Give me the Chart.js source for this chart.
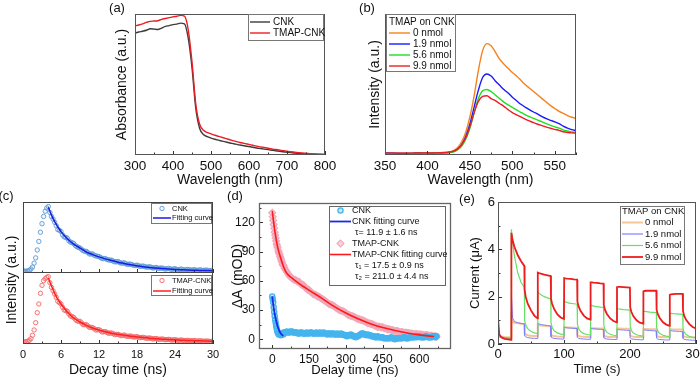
<!DOCTYPE html>
<html><head><meta charset="utf-8">
<script src="https://cdn.jsdelivr.net/npm/chart.js@4.4.1/dist/chart.umd.min.js"></script>
<style>
html,body{margin:0;padding:0;background:#fff;width:700px;height:379px;overflow:hidden}
canvas{position:absolute;left:0;top:0}
</style></head><body>
<canvas id="ca" width="700" height="379"></canvas>
<canvas id="cb" width="700" height="379"></canvas>
<canvas id="cc1" width="700" height="379"></canvas>
<canvas id="cc2" width="700" height="379"></canvas>
<canvas id="cd" width="700" height="379"></canvas>
<canvas id="ce" width="700" height="379"></canvas>
<script>
// ---------------- DATA ----------------
// (a) absorbance
const absWl = [300,310,320,330,340,350,360,370,380,390,400,410,420,430,440,450,460,470,480,490,500,510,520,530,540,550,560,570,580,590,600,610,620,630,640,650,660,670,680,690,700,710,720,730,740,750,760,770,780,790,800];
const absCNK = [.865,.872,.878,.885,.895,.893,.89,.9,.912,.918,.925,.928,.935,.93,.83,.62,.33,.19,.145,.13,.12,.112,.105,.098,.092,.085,.08,.074,.069,.064,.06,.055,.05,.046,.042,.038,.034,.03,.027,.023,.02,.017,.014,.012,.01,.008,.007,.006,.005,.004,.004];
const absTMAP = [.915,.922,.93,.94,.948,.95,.952,.962,.968,.974,.98,.984,.99,.985,.89,.66,.36,.22,.175,.16,.15,.14,.132,.124,.116,.108,.1,.093,.087,.081,.075,.069,.063,.058,.053,.048,.043,.039,.035,.031,.027,.023,.02,.017,.014,.012,.01,.008,.006,.005,.004];
const absTicks = [300,400,500,600,700,800];
// (b) PL spectra
const plWl = [350,355,360,365,370,375,380,385,390,395,400,405,410,415,420,425,430,435,440,445,450,455,460,465,470,475,480,485,490,495,500,505,510,515,520,525,530,535,540,545,550,555,560,565,570,575];
const pl0 = [.015,.015,.014,.014,.013,.013,.013,.014,.015,.016,.016,.015,.016,.017,.019,.022,.03,.05,.09,.16,.27,.42,.6,.74,.79,.775,.73,.68,.645,.615,.585,.56,.53,.5,.475,.45,.425,.4,.375,.35,.33,.31,.295,.28,.268,.26];
const pl19 = [.012,.012,.012,.011,.011,.011,.011,.012,.012,.013,.013,.013,.013,.014,.015,.018,.024,.04,.07,.13,.22,.34,.46,.55,.575,.56,.525,.495,.465,.44,.41,.385,.36,.34,.322,.305,.29,.272,.258,.246,.235,.222,.205,.19,.18,.173];
const pl56 = [.01,.01,.01,.01,.01,.01,.01,.011,.011,.012,.012,.012,.012,.013,.014,.016,.021,.035,.06,.11,.19,.3,.4,.455,.465,.45,.425,.4,.375,.355,.338,.32,.302,.287,.272,.26,.248,.235,.222,.21,.2,.19,.178,.17,.163,.16];
const pl99 = [.013,.013,.013,.012,.012,.012,.013,.014,.014,.015,.015,.014,.015,.016,.017,.02,.026,.04,.07,.12,.2,.3,.38,.415,.42,.4,.385,.365,.345,.322,.3,.285,.27,.255,.242,.229,.218,.208,.198,.19,.182,.175,.165,.16,.157,.155];
const plTicks = [350,400,450,500,550];
// (c) TRPL decay (two interleaved sampling sets)
const cX = [0,0.5,1,1.5,2,2.5,3,3.5,4,4.5,5,5.5,6,6.5,7,7.5,8,8.5,9,9.5,10,10.5,11,11.5,12,12.5,13,13.5,14,14.5,15,15.5,16,16.5,17,17.5,18,18.5,19,19.5,20,20.5,21,21.5,22,22.5,23,23.5,24,24.5,25,25.5,26,26.5,27,27.5,28,28.5,29,29.5,30];
const cCNK = [.01,.005,.02,.07,.21,.46,.73,.92,.99,.84,.75,.64,.61,.53,.51,.45,.43,.38,.36,.32,.31,.27,.27,.24,.23,.2,.2,.18,.175,.15,.155,.13,.135,.11,.115,.095,.1,.08,.085,.07,.075,.055,.065,.05,.055,.04,.05,.035,.045,.03,.04,.025,.035,.025,.03,.02,.03,.02,.025,.015,.02];
const cTMAP = [.01,.015,.035,.11,.3,.58,.86,.96,.99,.83,.73,.62,.58,.49,.47,.4,.38,.33,.32,.27,.27,.23,.225,.19,.195,.16,.165,.14,.145,.12,.125,.105,.115,.095,.1,.085,.09,.075,.08,.065,.07,.055,.062,.05,.055,.043,.05,.038,.044,.033,.04,.03,.035,.026,.031,.024,.028,.02,.025,.018,.022];
const cX2 = [0.25,0.75,1.25,1.75,2.25,2.75,3.25,3.75,4.25,4.75,5.25,5.75,6.25,6.75,7.25,7.75,8.25,8.75,9.25,9.75,10.25,10.75,11.25,11.75,12.25,12.75,13.25,13.75,14.25,14.75,15.25,15.75,16.25,16.75,17.25,17.75,18.25,18.75,19.25,19.75,20.25,20.75,21.25,21.75,22.25,22.75,23.25,23.75,24.25,24.75,25.25,25.75,26.25,26.75,27.25,27.75,28.25,28.75,29.25,29.75];
const cCNK2 = [.01,.012,.04,.13,.33,.6,.84,.97,.9,.8,.7,.63,.56,.52,.47,.44,.4,.37,.34,.31,.29,.27,.25,.235,.215,.2,.185,.175,.16,.15,.14,.13,.12,.115,.105,.095,.09,.085,.075,.07,.065,.06,.055,.055,.045,.045,.04,.04,.035,.035,.03,.03,.028,.025,.025,.022,.02,.022,.018,.02];
const cTMAP2 = [.012,.02,.06,.19,.45,.74,.93,.98,.9,.78,.68,.6,.53,.48,.43,.39,.35,.32,.295,.27,.25,.23,.21,.195,.18,.165,.155,.145,.135,.125,.115,.11,.1,.097,.09,.087,.08,.078,.072,.068,.064,.06,.056,.053,.05,.047,.045,.042,.04,.037,.035,.033,.031,.03,.028,.026,.025,.023,.022,.02];
const cFitX = [4,4.5,5,5.5,6,7,8,9,10,11,12,13,14,15,16,17,18,19,20,21,22,23,24,25,26,27,28,29,30];
const cCNKfit = [.98,.86,.76,.68,.61,.5,.42,.36,.3,.26,.225,.195,.17,.145,.125,.105,.09,.075,.065,.055,.047,.04,.034,.029,.025,.022,.019,.017,.015];
const cTMAPfit = [.97,.85,.74,.65,.58,.46,.37,.31,.26,.22,.19,.165,.142,.125,.11,.097,.086,.076,.067,.06,.053,.047,.042,.037,.033,.03,.027,.024,.022];
const cTicks = [0,6,12,18,24,30];
// (d) transient absorption
const dX = [0,4,8,12,16,20,25,30,35,40,45,50,60,70,80,90,100,110,120,130,140,150,160,170,180,190,200,210,220,230,240,250,260,270,280,290,300,310,320,330,340,350,360,370,380,390,400,410,420,430,440,450,460,470,480,490,500,510,520,530,540,550,560,570,580,590,600,610,620,630,640,650,660,670];
const dCNK = [44,38,28,20,14,9,6,5,4,5,5,7,8,7,8,7,7,6,7,6,7,6,7,6,7,6,6,7,6,6,5,6,5,5,6,5,4,4,5,3,2,3,5,6,5,5,4,3,2,3,2,2,1,1,1,1,0,1,1,1,2,1,2,2,2,2,3,2,2,3,2,2,3,3];
const dTMAP = [130,122,114,107,101,96,91,87,83,79,76,73,69,65,63,61,60,59,56,55,52,51,48,46,45,44,42,40.5,38.5,36.5,35.5,34.5,32.5,30.5,29.5,28.5,27,25,24,23.5,22,20.5,20,19.5,18,16.5,16,15.5,14,12.5,12.5,12.5,11,10,10,9.5,8.5,8.5,7.5,7.5,6.5,6.5,6,6,5,5.5,5,5,4,4.5,3.5,3.5,3,2.5];
const dX2 = [2,6,10,14,18,22,27,32,37,42,47,55,65,75,85,95,105,115,125,135,145,155,165,175,185,195,205,215,225,235,245,255,265,275,285,295,305,315,325,335,345,355,365,375,385,395,405,415,425,435,445,455,465,475,485,495,505,515,525,535,545,555,565,575,585,595,605,615,625,635,645,655,665];
const dCNK2 = [41,33,24,17,11,7,5,6,6,6,7,7,7,8,7,7,6,7,6,6,6,7,6,6,6,7,6,6,5,6,6,5,6,5,5,4,3,4,4,3,3,4,6,5,4,4,3,3,2,2,2,1,1,1,2,1,1,1,1,2,1,1,2,2,3,3,2,2,3,2,2,3,2];
const dTMAP2 = [126,118,110,104,98,94,89,85,81,77,75,71,67,64,62,61,59,57,56,53,51,49,47,46,44,43,41,39.5,37.5,36,35,33.5,31.5,30,29,28,26,25,24,23,21.5,20.5,19.5,18.5,17.5,16.5,15.5,14.5,13.5,13,12,11.5,11,10.5,9.5,9,8.5,8,7.5,7,7,6.5,6,5.5,5.5,5,5,4.5,4,4,3.5,3,3];
const dCfitX = [0,5,10,15,20,25,30,35,40,45];
const dCNKfit = [44,34,26,20,15,11,8,6,4.5,3.5];
const dTfitX = [0,10,20,30,40,50,60,80,100,125,150,175,200,250,300,350,400,450,500,550,600,650,660];
const dTMAPfit = [132,112,97,87,79,72,67.5,63,59,54.5,50.5,46.5,42.5,34,27,21,16,12,9,6.5,4.5,3,2.8];
const dXTicks = [0,150,300,450,600];
const dYTicks = [0,30,60,90,120];
// (e) photocurrent
const eT = [0,2,5,10,15,19.9, 20.3,22,25,30,35,39.9, 40.3,42,45,50,55,59.9, 60.3,62,65,70,75,79.9, 80.3,82,85,90,95,99.9, 100.3,102,105,110,115,119.9, 120.3,122,125,130,135,139.9, 140.3,142,145,150,155,159.9, 160.3,162,165,170,175,179.9, 180.3,182,185,190,195,199.9, 200.3,202,205,210,215,219.9, 220.3,222,225,230,235,239.9, 240.3,242,245,250,255,259.9, 260.3,262,265,270,275,279.9, 280.3,282,285,290,295,300];
const e0 = [.4,.35,.32,.3,.29,.28, 1.1,.95,.9,.88,.86,.85, .45,.4,.37,.35,.34,.33, .82,.8,.78,.77,.76,.75, .4,.36,.34,.32,.31,.31, .72,.71,.7,.7,.69,.69, .38,.34,.32,.31,.3,.3, .68,.67,.67,.66,.66,.66, .37,.33,.31,.3,.3,.3, .65,.65,.65,.64,.64,.64, .36,.33,.31,.3,.3,.3, .63,.63,.63,.62,.62,.62, .35,.32,.3,.3,.29,.29, .62,.62,.61,.61,.61,.61, .35,.32,.3,.29,.28,.28];
const e19 = [.45,.35,.3,.27,.25,.24, 2.1,1.1,.95,.9,.87,.85, .35,.3,.27,.25,.24,.23, .88,.85,.82,.8,.78,.76, .3,.26,.24,.22,.21,.21, .72,.7,.68,.67,.66,.65, .28,.24,.22,.21,.2,.2, .66,.65,.64,.63,.62,.61, .27,.23,.21,.2,.19,.19, .62,.61,.6,.59,.58,.57, .26,.22,.2,.19,.18,.18, .6,.59,.58,.57,.56,.55, .25,.21,.19,.18,.17,.17, .57,.56,.55,.54,.53,.52, .24,.2,.18,.17,.16,.15];
const e56 = [.35,.3,.27,.25,.24,.23, 4.85,4.3,3.7,3.0,2.6,2.4, 1.0,.8,.65,.53,.47,.44, 2.22,2.15,2.08,2.0,1.95,1.9, .9,.7,.56,.47,.42,.4, 1.82,1.78,1.75,1.72,1.7,1.68, .85,.66,.53,.44,.4,.38, 1.65,1.63,1.6,1.58,1.56,1.55, .8,.62,.49,.41,.37,.35, 1.5,1.49,1.47,1.45,1.44,1.43, .75,.58,.46,.39,.35,.33, 1.4,1.38,1.37,1.35,1.34,1.33, .7,.55,.44,.37,.33,.31, 1.3,1.29,1.28,1.27,1.26,1.25, .65,.5,.4,.32,.28,.25];
const e99 = [1.1,.4,.28,.22,.2,.18, 4.7,4.4,4.1,3.75,3.5,3.3, 2.3,2.0,1.7,1.42,1.2,1.08, 3.02,3.0,2.97,2.93,2.9,2.87, 1.9,1.7,1.48,1.25,1.12,1.06, 2.78,2.77,2.76,2.75,2.73,2.72, 1.8,1.6,1.4,1.2,1.08,1.03, 2.6,2.6,2.59,2.58,2.56,2.55, 1.65,1.45,1.27,1.08,.97,.92, 2.4,2.41,2.41,2.4,2.39,2.38, 1.55,1.36,1.18,1.0,.9,.86, 2.22,2.24,2.25,2.25,2.25,2.25, 1.45,1.27,1.1,.92,.82,.77, 2.08,2.1,2.11,2.12,2.12,2.12, 1.4,1.2,1.02,.84,.72,.66];
const eXTicks = [0,100,200,300];
const eYTicks = [0,2,4,6];

// ---------------- HELPERS ----------------
const FONT = "'Liberation Sans', Arial, sans-serif";
const pts = (xs, ys) => xs.map((x, i) => ({x: x, y: ys[i]}));

function drawMarker(ctx, style, x, y, r, fill, stroke, bw) {
  ctx.beginPath();
  if (style === 'rectRot') { ctx.moveTo(x, y - r); ctx.lineTo(x + r, y); ctx.lineTo(x, y + r); ctx.lineTo(x - r, y); ctx.closePath(); }
  else ctx.arc(x, y, r, 0, Math.PI * 2);
  if (fill) { ctx.fillStyle = fill; ctx.fill(); }
  ctx.lineWidth = bw; ctx.strokeStyle = stroke; ctx.stroke();
}

function drawLegend(ctx, chart, L) {
  ctx.save();
  const [x0, y0, x1, y1] = L.box;
  ctx.fillStyle = '#fff'; ctx.fillRect(x0, y0, x1 - x0, y1 - y0);
  ctx.strokeStyle = L.border || '#777'; ctx.lineWidth = 1;
  ctx.strokeRect(x0 + 0.5, y0 + 0.5, x1 - x0 - 1, y1 - y0 - 1);
  ctx.font = L.fs + 'px ' + FONT; ctx.textBaseline = 'middle'; ctx.textAlign = 'left';
  L.rows.forEach(r => {
    let text = r.text;
    if (r.ds !== undefined) {
      const ds = chart.data.datasets[r.ds];
      text = ds.label;
      if (r.kind === 'line') {
        ctx.beginPath(); ctx.strokeStyle = ds.borderColor; ctx.lineWidth = Math.max(ds.borderWidth, 1.2);
        ctx.moveTo(L.lx0, r.y); ctx.lineTo(L.lx1, r.y); ctx.stroke();
      } else {
        drawMarker(ctx, ds.pointStyle, (L.lx0 + L.lx1) / 2, r.y, ds.pointRadius, ds.backgroundColor, ds.borderColor, ds.borderWidth);
      }
    }
    ctx.fillStyle = '#111';
    ctx.fillText(text, r.x !== undefined ? r.x : L.tx, r.y);
  });
  ctx.restore();
}

const deco = {
  id: 'deco',
  afterDraw(chart, args, o) {
    const ctx = chart.ctx, a = chart.chartArea, sx = chart.scales.x, sy = chart.scales.y;
    ctx.save();
    ctx.strokeStyle = o.tickColor || '#333'; ctx.lineWidth = 1;
    const tickSet = (scale, minor, horiz) => {
      const vals = scale.ticks.map(t => t.value);
      const mk = (v, len) => {
        const p = Math.round(scale.getPixelForValue(v)) + 0.5;
        ctx.beginPath();
        if (horiz) {
          ctx.moveTo(p, a.bottom); ctx.lineTo(p, a.bottom - len);
          if (o.topTicks) { ctx.moveTo(p, a.top); ctx.lineTo(p, a.top + len); }
        } else { ctx.moveTo(a.left, p); ctx.lineTo(a.left + len, p); }
        ctx.stroke();
      };
      vals.forEach(v => mk(v, 4));
      if (minor) {
        for (let v = Math.ceil(scale.min / minor) * minor; v <= scale.max + 1e-9; v += minor) {
          if (!vals.some(m => Math.abs(m - v) < 1e-6)) mk(v, 2.5);
        }
      }
    };
    if (o.xTicks) tickSet(sx, o.xMinor, true);
    if (o.yTicks) tickSet(sy, o.yMinor, false);
    ctx.strokeStyle = o.frameColor || '#444'; ctx.lineWidth = o.frameWidth || 1;
    ctx.strokeRect(a.left + 0.5, a.top + 0.5, a.right - a.left - 1, a.bottom - a.top - 1);
    if (o.legend) drawLegend(ctx, chart, o.legend);
    (o.texts || []).forEach(t => {
      ctx.save(); ctx.font = t.fs + 'px ' + FONT; ctx.fillStyle = '#111';
      ctx.textAlign = 'center'; ctx.textBaseline = 'middle';
      ctx.translate(t.x, t.y); if (t.rot) ctx.rotate(t.rot); ctx.fillText(t.t, 0, 0); ctx.restore();
    });
    ctx.restore();
  }
};

function axis(A, dir, size) {
  return {
    type: 'linear', position: dir === 'x' ? 'bottom' : 'left',
    min: A.min, max: A.max,
    grid: {display: false, drawTicks: false},
    border: {display: false},
    ticks: {display: !!A.labels, font: {family: FONT, size: A.fs || 12}, color: '#111', padding: A.pad || 3, maxRotation: 0, autoSkip: false},
    title: {display: !!A.title, text: A.title || '', font: {family: FONT, size: A.tfs || 14}, color: '#111', padding: 0},
    afterBuildTicks: s => { s.ticks = (A.ticks || []).map(v => ({value: v})); },
    afterFit: s => {
      if (dir === 'x') { s.height = size; s.paddingLeft = 0; s.paddingRight = 0; }
      else { s.width = size; s.paddingTop = 0; s.paddingBottom = 0; }
    }
  };
}

function makeChart(id, P) {
  return new Chart(document.getElementById(id), {
    type: 'scatter',
    data: {datasets: P.datasets},
    options: {
      responsive: false, animation: false, devicePixelRatio: 1,
      events: [],
      layout: {padding: {left: P.plot.l - P.yW, top: P.plot.t, right: 700 - P.plot.r, bottom: 379 - P.plot.b - P.xH}},
      plugins: {legend: {display: false}, tooltip: {enabled: false}, deco: P.deco},
      scales: {x: axis(P.x, 'x', P.xH), y: axis(P.y, 'y', P.yW)}
    },
    plugins: [deco]
  });
}
// "order": lower value is drawn on top
const line = (label, data, color, w, order, extra) => Object.assign({label: label, data: data, showLine: true, pointRadius: 0, borderColor: color, backgroundColor: color, borderWidth: w, tension: 0, order: order}, extra || {});
const marks = (label, data, style, r, stroke, fill, bw, order) => ({label: label, data: data, showLine: false, pointStyle: style, pointRadius: r, borderColor: stroke, backgroundColor: fill, borderWidth: bw, order: order});
const mono = {cubicInterpolationMode: 'monotone'};

// ---------------- (a) ----------------
makeChart('ca', {
  plot: {l: 135, t: 14, r: 325, b: 155}, yW: 21.4, xH: 33.4,
  x: {min: 300, max: 800, ticks: absTicks, labels: true, fs: 13.5, pad: 3, title: 'Wavelength (nm)', tfs: 14},
  y: {min: 0, max: 1, ticks: [], title: 'Absorbance (a.u.)', tfs: 14},
  datasets: [
    line('CNK', pts(absWl, absCNK), '#3c3c3c', 1.4, 1, mono),
    line('TMAP-CNK', pts(absWl, absTMAP), '#ee1c24', 1.4, 0, mono)
  ],
  deco: {xTicks: true, xMinor: 50, frameColor: '#555',
    legend: {box: [248, 14, 324, 41], lx0: 250, lx1: 270, tx: 273, fs: 10, rows: [{ds: 0, kind: 'line', y: 22}, {ds: 1, kind: 'line', y: 33}]},
    texts: [{t: '(a)', x: 117, y: 8, fs: 13}]}
});

// ---------------- (b) ----------------
makeChart('cb', {
  plot: {l: 385, t: 14, r: 576, b: 155}, yW: 18.4, xH: 33.4,
  x: {min: 350, max: 575, ticks: plTicks, labels: true, fs: 13.5, pad: 3, title: 'Wavelength (nm)', tfs: 14},
  y: {min: 0, max: 1, ticks: [], title: 'Intensity (a.u.)', tfs: 14},
  datasets: [
    line('0 nmol', pts(plWl, pl0), '#f5821f', 1.4, 3, mono),
    line('1.9 nmol', pts(plWl, pl19), '#1a1aff', 1.4, 2, mono),
    line('5.6 nmol', pts(plWl, pl56), '#22dd22', 1.4, 1, mono),
    line('9.9 nmol', pts(plWl, pl99), '#ee1c24', 1.4, 0, mono)
  ],
  deco: {xTicks: true, xMinor: 25, frameColor: '#555',
    legend: {box: [386, 14, 456, 72], lx0: 389, lx1: 410, tx: 413, fs: 10, rows: [
      {text: 'TMAP on CNK', x: 389, y: 22}, {ds: 0, kind: 'line', y: 33}, {ds: 1, kind: 'line', y: 44}, {ds: 2, kind: 'line', y: 55}, {ds: 3, kind: 'line', y: 66}]},
    texts: [{t: '(b)', x: 367, y: 8, fs: 13}]}
});

// ---------------- (c) top ----------------
makeChart('cc1', {
  plot: {l: 23, t: 202, r: 213, b: 273}, yW: 0, xH: 0,
  x: {min: 0, max: 30, ticks: cTicks, labels: false},
  y: {min: -0.02, max: 1.06, ticks: []},
  datasets: [
    marks('CNK', pts(cX.concat(cX2), cCNK.concat(cCNK2)), 'circle', 2.2, '#5b9bd5', 'rgba(91,155,213,0.08)', 0.9, 1),
    line('Fitting curve', pts(cFitX, cCNKfit), '#1a1ae6', 1.5, 0, mono)
  ],
  deco: {xTicks: true, xMinor: 3, frameColor: '#444',
    legend: {box: [151, 203, 212, 224], lx0: 153, lx1: 171, tx: 172, fs: 7.5, rows: [{ds: 0, kind: 'marker', y: 208.5}, {ds: 1, kind: 'line', y: 218}]},
    texts: [{t: '(c)', x: 6, y: 196, fs: 13}]}
});

// ---------------- (c) bottom ----------------
makeChart('cc2', {
  plot: {l: 23, t: 272, r: 213, b: 344}, yW: 0, xH: 34.4,
  x: {min: 0, max: 30, ticks: cTicks, labels: true, fs: 11, pad: 4, title: 'Decay time (ns)', tfs: 14},
  y: {min: -0.02, max: 1.06, ticks: []},
  datasets: [
    marks('TMAP-CNK', pts(cX.concat(cX2), cTMAP.concat(cTMAP2)), 'circle', 2.2, '#f26b6b', 'rgba(242,107,107,0.08)', 0.9, 1),
    line('Fitting curve', pts(cFitX, cTMAPfit), '#ff2020', 1.5, 0, mono)
  ],
  deco: {xTicks: true, xMinor: 3, frameColor: '#444',
    legend: {box: [151, 275, 212, 296], lx0: 153, lx1: 171, tx: 172, fs: 7.5, rows: [{ds: 0, kind: 'marker', y: 280.5}, {ds: 1, kind: 'line', y: 291}]},
    texts: [{t: 'Intensity (a.u.)', x: 12, y: 280, fs: 14, rot: -Math.PI / 2}]}
});

// ---------------- (d) ----------------
makeChart('cd', {
  plot: {l: 259, t: 203, r: 451, b: 349}, yW: 29.4, xH: 28.8,
  x: {min: -54, max: 729, ticks: dXTicks, labels: true, fs: 12, pad: 3, title: 'Delay time (ns)', tfs: 13},
  y: {min: -10, max: 140, ticks: dYTicks, labels: true, fs: 12, pad: 4, title: 'ΔA (mOD)', tfs: 14},
  datasets: [
    marks('TMAP-CNK', pts(dX.concat(dX2), dTMAP.concat(dTMAP2)), 'rectRot', 3.4, '#f2a7b8', 'rgba(242,167,184,0.45)', 1.2, 3),
    marks('CNK', pts(dX.concat(dX2), dCNK.concat(dCNK2)), 'circle', 2.6, '#45b4ee', 'rgba(69,180,238,0.35)', 1.3, 2),
    line('TMAP-CNK fitting curve', pts(dTfitX, dTMAPfit), '#ff1a1a', 1.6, 1, mono),
    line('CNK fitting curve', pts(dCfitX, dCNKfit), '#1a2ae6', 1.8, 0, mono)
  ],
  deco: {xTicks: true, xMinor: 75, yTicks: true, yMinor: 15, frameColor: '#666', frameWidth: 1.3,
    legend: {box: [329, 206, 446, 286], lx0: 330, lx1: 351, tx: 352, fs: 9, border: '#666', rows: [
      {ds: 1, kind: 'marker', y: 210.5}, {ds: 3, kind: 'line', y: 221.5}, {text: 'τ= 11.9 ± 1.6 ns', x: 355, y: 232.5},
      {ds: 0, kind: 'marker', y: 243.5}, {ds: 2, kind: 'line', y: 254.5}, {text: 'τ₁ = 17.5 ± 0.9 ns', x: 355, y: 266}, {text: 'τ₂ = 211.0 ± 4.4 ns', x: 355, y: 277}]},
    texts: [{t: '(d)', x: 235, y: 196, fs: 13}]}
});

// ---------------- (e) ----------------
makeChart('ce', {
  plot: {l: 498, t: 202, r: 696, b: 344}, yW: 30.2, xH: 33.2,
  x: {min: 0, max: 300, ticks: eXTicks, labels: true, fs: 13, pad: 3, title: 'Time (s)', tfs: 13},
  y: {min: 0, max: 6, ticks: eYTicks, labels: true, fs: 13, pad: 3, title: 'Current (μA)', tfs: 13},
  datasets: [
    line('0 nmol', pts(eT, e0), '#f6c596', 2, 3),
    line('1.9 nmol', pts(eT, e19), '#8080ff', 1, 2),
    line('5.6 nmol', pts(eT, e56), '#66e066', 1.2, 1),
    line('9.9 nmol', pts(eT, e99), '#ee1c1c', 1.8, 0)
  ],
  deco: {xTicks: true, xMinor: 50, yTicks: true, yMinor: 1, frameColor: '#555',
    legend: {box: [620, 206, 685, 265], lx0: 622, lx1: 643, tx: 645, fs: 9.5, rows: [
      {text: 'TMAP on CNK', x: 622, y: 211.5}, {ds: 0, kind: 'line', y: 222.5}, {ds: 1, kind: 'line', y: 234}, {ds: 2, kind: 'line', y: 245.5}, {ds: 3, kind: 'line', y: 257}]},
    texts: [{t: '(e)', x: 467, y: 199, fs: 13}]}
});
</script>
</body></html>
